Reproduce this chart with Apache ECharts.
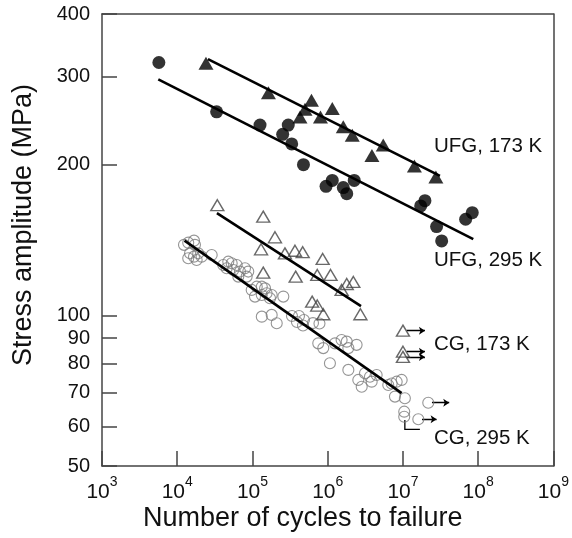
<!DOCTYPE html>
<html>
<head>
<meta charset="utf-8">
<script src="https://cdn.jsdelivr.net/npm/echarts@6/dist/echarts.min.js"></script>
<style>
  html, body { margin: 0; padding: 0; background: #fff; }
  #chart { width: 572px; height: 538px; }
</style>
</head>
<body>
<div id="chart"></div>
<script>
// S-N fatigue data: cycles to failure vs stress amplitude (MPa)

// Tick values
const xTicks = [1e3, 1e4, 1e5, 1e6, 1e7, 1e8, 1e9];
const yTicks = [50, 60, 70, 80, 90, 100, 200, 300, 400];

// UFG, 295 K (filled circles)
const ufg295N = [5.7e3, 3.34e4, 1.26e5, 2.99e5, 2.52e5, 3.32e5, 4.76e5, 1.15e6, 9.5e5, 1.61e6, 1.79e6, 2.25e6, 1.96e7, 1.72e7, 8.34e7, 6.81e7, 2.80e7, 3.27e7];
const ufg295S = [320, 255, 240, 240, 230, 220, 200, 186, 181, 180, 175, 186, 169.5, 165.4, 160.4, 155.6, 150.4, 140.8];

// UFG, 173 K (filled triangles)
const ufg173N = [2.41e4, 1.63e5, 6.08e5, 1.15e6, 4.99e5, 4.28e5, 8.01e5, 1.61e6, 2.12e6, 5.47e6, 3.87e6, 1.42e7, 2.74e7];
const ufg173S = [319, 278.5, 269, 259, 258, 249, 249, 238, 229, 219, 208.6, 198.8, 189];

// CG, 173 K (open triangles)
const cg173N = [3.41e4, 1.39e5, 1.99e5, 1.30e5, 2.70e5, 3.67e5, 4.65e5, 8.57e5, 1.39e5, 3.75e5, 7.26e5, 1.09e6, 1.79e6, 2.19e6, 1.53e6, 6.21e5, 7.26e5, 8.73e5, 2.72e6];
const cg173S = [166, 157.5, 143.2, 135.5, 133, 134.6, 133.7, 129.6, 121.7, 119.5, 120.4, 120.4, 115.5, 116.6, 112.4, 106.5, 104.6, 100.5, 100.5];

// CG, 173 K run-outs (no failure): start cycles, stress, arrow tip cycles
const cg173RunN = [1.0e7, 1.0e7, 1.0e7];
const cg173RunS = [93.2, 84.6, 82.6];
const cg173RunTo = [1.96e7, 1.96e7, 1.96e7];

// CG, 295 K (open circles)
const cg295N = [
  1.23e4, 1.40e4, 1.67e4, 1.72e4, 1.48e4, 1.67e4, 1.40e4, 1.90e4, 2.11e4, 1.81e4, 2.87e4,
  4.09e4, 4.77e4, 5.29e4, 6.17e4, 6.82e4, 7.95e4, 8.79e4, 8.37e4, 6.48e4, 5.56e4, 4.54e4,
  9.76e4, 1.14e5, 1.33e5, 1.47e5, 1.54e5, 1.33e5, 1.08e5, 1.71e5, 1.80e5, 2.57e5,
  1.33e5, 1.80e5, 2.10e5, 3.35e5, 4.15e5, 3.90e5, 4.83e5, 6.37e5, 7.77e5, 4.69e5,
  7.49e5, 8.73e5, 1.25e6, 1.53e6, 1.79e6, 1.88e6, 2.42e6, 1.07e6, 1.88e6,
  2.55e6, 2.83e6, 3.13e6, 3.64e6, 4.47e6, 3.84e6,
  6.38e6, 7.08e6, 8.25e6, 9.61e6, 7.83e6, 1.06e7, 1.04e7, 1.04e7
];
const cg295S = [
  138.3, 139.7, 141.0, 138.3, 133.0, 131.0, 130.0, 133.0, 131.0, 129.0, 132.0,
  126.1, 128.0, 127.1, 126.1, 122.3, 124.2, 122.3, 119.5, 119.5, 123.2, 124.2,
  112.4, 114.1, 114.1, 113.2, 110.7, 109.8, 109.0, 108.2, 109.8, 109.0,
  99.4, 100.2, 96.4, 99.7, 99.7, 97.0, 97.9, 96.5, 96.3, 95.4,
  87.9, 86.0, 87.9, 89.3, 88.6, 86.0, 87.3, 80.2, 77.8,
  74.3, 72.0, 76.6, 75.4, 76.0, 73.7,
  72.6, 73.1, 73.7, 74.3, 68.8, 68.3, 64.2, 62.7
];

// CG, 295 K run-outs
const cg295RunN = [2.17e7, 1.60e7];
const cg295RunS = [66.9, 62.0];
const cg295RunTo = [4.12e7, 2.80e7];
// run-out drawn as an elbow: down from the specimen point, then right
const cg295ElbowN = [1.06e7, 1.06e7, 1.68e7];
const cg295ElbowS = [61.8, 59.2, 59.2];

// Fitted Basquin lines: [startN, endN], [startS, endS]
const fitUfg173N = [2.56e4, 3.10e7], fitUfg173S = [325, 190];
const fitUfg295N = [5.6e3, 8.6e7],  fitUfg295S = [296, 142];
const fitCg173N  = [3.37e4, 2.77e6], fitCg173S  = [160, 104.3];
const fitCg295N  = [1.25e4, 9.6e6],  fitCg295S  = [141, 69.9];

// Series labels
const seriesLabels = ['UFG, 173 K', 'UFG, 295 K', 'CG, 173 K', 'CG, 295 K'];

const zip = (a, b) => a.map((v, i) => [v, b[i]]);
const FONT = '"Liberation Sans", Arial, Helvetica, sans-serif';
const AXIS_COLOR = '#444';
const axisLine = { show: true, lineStyle: { color: AXIS_COLOR, width: 1.5 } };

function fitLine(name, n, s) {
  return {
    name, type: 'line', data: zip(n, s), symbol: 'none', silent: true,
    lineStyle: { color: '#000', width: 2.6 }, z: 3
  };
}

function runoutLines(name, n, s, to) {
  return {
    name, type: 'lines', coordinateSystem: 'cartesian2d', polyline: false,
    symbol: ['none', 'arrow'], symbolSize: 6, silent: true,
    lineStyle: { color: '#000', width: 1.3, opacity: 1 },
    data: n.map((v, i) => ({ coords: [[v, s[i]], [to[i], s[i]]] })), z: 2
  };
}

// plain frame edge (top / right) sharing the main axis range
function frameAxis(type, position, min, max) {
  return {
    type, logBase: 10, min, max, position,
    axisLine, axisTick: { show: false }, axisLabel: { show: false },
    splitLine: { show: false }, minorTick: { show: false }
  };
}

const chart = echarts.init(document.getElementById('chart'), null, { renderer: 'canvas' });

chart.setOption({
  animation: false,
  backgroundColor: '#fff',
  grid: { left: 102, right: 18, top: 14, bottom: 72 },
  xAxis: [{
    type: 'log', logBase: 10, min: 1e3, max: 1e9, position: 'bottom',
    axisLine,
    axisTick: { show: true, inside: true, length: 15, customValues: xTicks, lineStyle: { color: AXIS_COLOR, width: 1.5 } },
    splitLine: { show: false },
    axisLabel: {
      customValues: xTicks, margin: 9, fontSize: 20, color: '#111', fontFamily: FONT,
      formatter: v => '{b|10}{s|' + Math.round(Math.log10(v)) + '}',
      rich: {
        b: { fontSize: 21, fontFamily: FONT, color: '#111', lineHeight: 28, verticalAlign: 'bottom' },
        s: { fontSize: 14, fontFamily: FONT, color: '#111', lineHeight: 15, verticalAlign: 'top' }
      }
    }
  }, frameAxis('log', 'top', 1e3, 1e9)],
  yAxis: [{
    type: 'log', logBase: 10, min: 50, max: 400, position: 'left',
    axisLine,
    axisTick: { show: true, inside: true, length: 15, customValues: yTicks, lineStyle: { color: AXIS_COLOR, width: 1.5 } },
    splitLine: { show: false },
    axisLabel: {
      customValues: yTicks, margin: 12, fontSize: 20, color: '#111', fontFamily: FONT,
      formatter: v => String(Math.round(v))
    }
  }, frameAxis('log', 'right', 50, 400)],
  graphic: [
    { type: 'text', left: 143, top: 505, style: { text: 'Number of cycles to failure', font: '27px ' + FONT, fill: '#111' } },
    { type: 'text', x: 24, y: 225, rotation: Math.PI / 2,
      style: { text: 'Stress amplitude (MPa)', font: '27px ' + FONT, fill: '#111', align: 'center', verticalAlign: 'middle' } },
    { type: 'text', x: 434, y: 146, style: { text: seriesLabels[0], font: '20.5px ' + FONT, fill: '#111', verticalAlign: 'middle' } },
    { type: 'text', x: 434, y: 260, style: { text: seriesLabels[1], font: '20.5px ' + FONT, fill: '#111', verticalAlign: 'middle' } },
    { type: 'text', x: 434, y: 344, style: { text: seriesLabels[2], font: '20.5px ' + FONT, fill: '#111', verticalAlign: 'middle' } },
    { type: 'text', x: 434, y: 438, style: { text: seriesLabels[3], font: '20.5px ' + FONT, fill: '#111', verticalAlign: 'middle' } }
  ],
  series: [
    fitLine('fit ' + seriesLabels[0], fitUfg173N, fitUfg173S),
    fitLine('fit ' + seriesLabels[1], fitUfg295N, fitUfg295S),
    fitLine('fit ' + seriesLabels[2], fitCg173N, fitCg173S),
    fitLine('fit ' + seriesLabels[3], fitCg295N, fitCg295S),
    {
      name: seriesLabels[3], type: 'scatter', data: zip(cg295N.concat(cg295RunN), cg295S.concat(cg295RunS)),
      symbol: 'circle', symbolSize: 11,
      itemStyle: { color: 'rgba(255,255,255,0)', borderColor: '#7a7a7a', borderWidth: 1.1 }, z: 2
    },
    {
      name: seriesLabels[2], type: 'scatter', data: zip(cg173N.concat(cg173RunN), cg173S.concat(cg173RunS)),
      symbol: 'triangle', symbolSize: [13, 11],
      itemStyle: { color: 'rgba(255,255,255,0)', borderColor: '#444', borderWidth: 1.4 }, z: 2
    },
    {
      name: seriesLabels[1], type: 'scatter', data: zip(ufg295N, ufg295S),
      symbol: 'circle', symbolSize: 13, itemStyle: { color: '#000' }, z: 4
    },
    {
      name: seriesLabels[0], type: 'scatter', data: zip(ufg173N, ufg173S),
      symbol: 'triangle', symbolSize: [15, 13], itemStyle: { color: '#000' }, z: 4
    },
    runoutLines('run-out ' + seriesLabels[2], cg173RunN.map(v => v * 1.12), cg173RunS, cg173RunTo),
    runoutLines('run-out ' + seriesLabels[3], cg295RunN.map(v => v * 1.12), cg295RunS, cg295RunTo),
    {
      name: 'run-out elbow', type: 'lines', coordinateSystem: 'cartesian2d', polyline: true,
      symbol: ['none', 'arrow'], symbolSize: 6, silent: true,
      lineStyle: { color: '#000', width: 1.3, opacity: 1 },
      data: [{ coords: zip(cg295ElbowN, cg295ElbowS) }], z: 2
    }
  ]
});
</script>
</body>
</html>
